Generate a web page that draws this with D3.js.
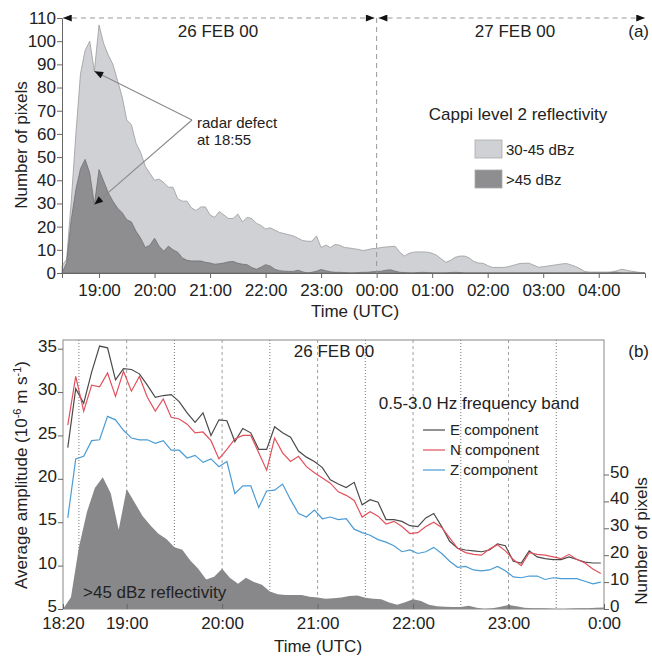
<!DOCTYPE html>
<html>
<head>
<meta charset="utf-8">
<script src="https://cdn.jsdelivr.net/npm/d3@7"></script>
<style>
body { margin: 0; background: #fff; }
svg text { font-family: "Liberation Sans", Arial, Helvetica, sans-serif; fill: #222; }
</style>
</head>
<body>
<svg id="chart" width="652" height="656"></svg>
<script>
// radar pixel counts, every 5 min from 26 Feb 18:20 UTC
const pixStart = Date.UTC(2000, 1, 26, 18, 20);
const pixStepMin = 5;
const pix3045 = [3, 6, 31, 60, 86, 96, 100, 87, 107, 99, 94, 90, 83, 76, 66, 64, 56, 52, 46, 43,
    40, 40.5, 39, 37, 37, 32, 31, 31, 28, 27, 28.5, 28.5, 25, 24, 26.5, 25, 23.5, 23.5, 25.5, 22,
    24, 23.5, 21.5, 20.5, 19, 19.5, 18.5, 17.5, 17, 16.5, 16, 15, 14, 13.7, 13.7, 16, 11, 12, 11, 12.3,
    12, 11, 10.8, 10.5, 10.2, 9.7, 10, 10.5, 10.6, 11, 11.2, 11.4, 11.5, 9, 7.3, 8.5, 9, 9.1, 9.1, 9,
    8.5, 7.6, 6, 4.6, 5.5, 6.8, 7.3, 7.3, 6.5, 5, 4.3, 4.2, 3.2, 2.4, 2.4, 2.4, 2.5, 3, 3.6, 4.1,
    4.2, 4.2, 3.3, 2.5, 2.7, 3, 3.3, 3.6, 3.9, 4.1, 3.5, 2.8, 1.8, 0.6, 0.4, 0.4, 0.4, 0.4, 0.4, 0.5,
    1, 1.6, 1.2, 0.8, 0.5, 0.2, 0];
const pix45 = [0, 4.4, 23, 36, 45, 49, 43, 29.5, 44.6, 39.6, 34.6, 31, 28, 26, 23, 22, 18, 15, 11, 12,
    15, 11.5, 9.4, 11.6, 10, 9, 6.5, 5.5, 5.2, 5.2, 5.2, 4.6, 4.3, 3.8, 4, 4.3, 4.8, 5, 4.2, 3.8,
    3.6, 2.4, 1.6, 2.5, 3.6, 3, 1.6, 1, 0.8, 0.7, 0.7, 1.2, 0.5, 0, 0.3, 0.8, 1.5, 1, 0.5, 0.3,
    0.3, 0.2, 0, 0, 0.2, 0.3, 0.3, 0.5, 0.6, 0.8, 1.2, 1.4, 0.8, 0.3, 0.2, 0, 0, 0.2, 0.3, 0.2,
    0, 0, 0, 0, 0.2, 0.3, 0.2, 0, 0, 0, 0, 0, 0, 0, 0, 0, 0, 0, 0, 0,
    0, 0, 0, 0, 0, 0, 0, 0, 0, 0, 0, 0, 0, 0, 0, 0, 0, 0, 0, 0.3,
    0.3, 0, 0, 0, 0, 0, 0];

// average amplitude 0.5-3.0 Hz, every 5 min from 18:23 UTC
const ampStart = Date.UTC(2000, 1, 26, 18, 23);
const ampStepMin = 5;
const ampE = [23.6, 30.4, 28.7, 32.3, 35.3, 35.1, 31.4, 32.7, 32.6, 32.1, 30.8, 29.4, 29.6, 29.7, 28.9, 27.6, 26.5, 27.6, 25.0, 26.8,
    26.7, 24.3, 25.8, 25.3, 23.4, 23.4, 26.0, 25.3, 24.8, 23.2, 22.5, 22.0, 21.3, 19.9, 19.4, 19.0, 19.6, 17.0, 17.6, 17.3,
    15.3, 15.3, 15.1, 14.6, 14.5, 15.5, 16.0, 14.5, 12.8, 12.0, 11.8, 11.7, 11.6, 11.8, 12.5, 12.3, 10.5, 10.3, 11.7, 11.0,
    10.8, 10.7, 10.7, 11.0, 10.7, 10.4, 10.3, 10.3];
const ampN = [26.2, 31.8, 27.8, 30.8, 30.6, 32.2, 29.5, 32.4, 30.1, 31.8, 29.4, 27.8, 29.2, 27.1, 26.9, 26.3, 25.3, 25.4, 24.4, 22.3,
    23.4, 24.6, 25.0, 25.0, 23.0, 21.0, 24.7, 23.0, 22.0, 22.6, 21.4, 20.7, 20.1, 19.5, 18.5, 18.1, 17.5, 15.6, 16.2, 15.7,
    14.8, 15.1, 14.5, 13.7, 13.8, 14.5, 15.0, 14.4, 13.2, 12.0, 11.5, 11.3, 11.2, 11.9, 12.4, 11.7, 10.7, 10.0, 11.5, 11.3,
    11.2, 11.0, 10.8, 11.3, 10.7, 10.3, 9.6, 9.1];
const ampZ = [15.5, 22.3, 22.6, 24.4, 24.5, 27.2, 26.8, 25.6, 24.7, 24.5, 24.5, 24.1, 24.4, 23.3, 23.3, 22.4, 22.7, 21.9, 22.3, 21.4,
    22.0, 18.3, 19.2, 19.2, 16.7, 18.6, 18.7, 19.4, 17.6, 16.0, 15.6, 16.4, 15.4, 15.6, 15.3, 15.4, 14.2, 13.8, 13.5, 13.0,
    12.7, 12.3, 11.6, 11.8, 11.4, 11.6, 12.1, 11.4, 10.5, 9.8, 9.9, 9.5, 9.4, 9.5, 9.9, 9.4, 8.7, 8.6, 8.8, 8.8,
    8.4, 8.6, 8.5, 8.5, 8.5, 8.2, 7.9, 8.1];

const topHourTicks = [19, 20, 21, 22, 23, 24, 25, 26, 27, 28];
const botTickMinutes = [18 * 60 + 20, 19 * 60, 20 * 60, 21 * 60, 22 * 60, 23 * 60, 24 * 60];
const botTickLabels = ["18:20", "19:00", "20:00", "21:00", "22:00", "23:00", "0:00"];
const compNames = ["E component", "N component", "Z component"];
const compColors = ["#4a4a4a", "#e2505c", "#4a9bd4"];

const day0 = Date.UTC(2000, 1, 26);
const atMin = m => new Date(day0 + m * 60000);
const series = (start, step, vals) => vals.map((v, i) => ({t: new Date(start + i * step * 60000), v: v}));

const svg = d3.select("#chart");

// arrow heads
const defs = svg.append("defs");
defs.append("marker").attr("id", "head")
    .attr("viewBox", "0 0 10 8").attr("refX", 10).attr("refY", 4)
    .attr("markerWidth", 10).attr("markerHeight", 7).attr("markerUnits", "userSpaceOnUse")
    .attr("orient", "auto-start-reverse")
    .append("path").attr("d", "M0,0L10,4L0,8Z").attr("fill", "#111");

// ---------- panel (a) ----------
const xTop = d3.scaleUtc().domain([new Date(pixStart), atMin(28 * 60 + 50)]).range([62, 645]);
const yTop = d3.scaleLinear().domain([0, 110]).range([273, 18]);

const light = series(pixStart, pixStepMin, pix3045);
const dark = series(pixStart, pixStepMin, pix45);

const area = d3.area().x(d => xTop(d.t)).y0(yTop(0)).y1(d => yTop(d.v));
svg.append("path").datum(light).attr("d", area)
    .attr("fill", "#cfd1d4").attr("stroke", "#9a9a9c").attr("stroke-width", 0.8);
svg.append("path").datum(dark).attr("d", area)
    .attr("fill", "#8e8e91").attr("stroke", "#707072").attr("stroke-width", 0.8);

// day separator + date arrows
const xMid = xTop(atMin(24 * 60));
svg.append("line").attr("x1", xMid).attr("x2", xMid).attr("y1", yTop(110)).attr("y2", yTop(0))
    .attr("stroke", "#999").attr("stroke-dasharray", "5,4");
[[xTop.range()[0] + 1, xMid - 2], [xMid + 2, xTop.range()[1]]].forEach(s => {
    svg.append("line").attr("x1", s[0]).attr("x2", s[1]).attr("y1", yTop(110)).attr("y2", yTop(110))
        .attr("stroke", "#999").attr("stroke-dasharray", "5,4")
        .attr("marker-start", "url(#head)").attr("marker-end", "url(#head)");
});
svg.append("text").attr("x", 218).attr("y", 37).attr("text-anchor", "middle")
    .style("font-size", "17px").text("26 FEB 00");
svg.append("text").attr("x", 515).attr("y", 37).attr("text-anchor", "middle")
    .style("font-size", "17px").text("27 FEB 00");
svg.append("text").attr("x", 649).attr("y", 37).attr("text-anchor", "end")
    .style("font-size", "17px").text("(a)");

// axes
const gyTop = svg.append("g").attr("transform", "translate(62,0)");
gyTop.call(d3.axisLeft(yTop).tickValues(d3.range(0, 111, 5)).tickSize(3).tickFormat(""));
gyTop.call(d3.axisLeft(yTop).tickValues(d3.range(0, 111, 10)).tickSize(5).tickPadding(1));
gyTop.selectAll("text").style("font-size", "17px");

const gxTop = svg.append("g").attr("transform", "translate(0,273)");
gxTop.call(d3.axisBottom(xTop).ticks(d3.utcMinute.every(10)).tickSize(3).tickFormat(""));
gxTop.call(d3.axisBottom(xTop).tickValues(topHourTicks.map(h => atMin(h * 60)))
    .tickSize(5).tickPadding(6).tickFormat(d3.utcFormat("%H:%M")));
gxTop.selectAll("text").style("font-size", "17px");
[gyTop, gxTop].forEach(g => {
    g.selectAll("path,line").attr("stroke", "#666");
});

svg.append("text").attr("transform", "translate(27,145) rotate(-90)").attr("text-anchor", "middle")
    .style("font-size", "17px").text("Number of pixels");
svg.append("text").attr("x", 355).attr("y", 317).attr("text-anchor", "middle")
    .style("font-size", "17px").text("Time (UTC)");

// radar defect annotation
const apex = [192, 120];
[light[7], dark[7]].forEach(d => {
    svg.append("line").attr("x1", apex[0]).attr("y1", apex[1])
        .attr("x2", xTop(d.t)).attr("y2", yTop(d.v))
        .attr("stroke", "#8a8a8a").attr("stroke-width", 1.1)
        .attr("marker-end", "url(#head)");
});
svg.append("text").attr("x", 197).attr("y", 128).style("font-size", "15px").text("radar defect");
svg.append("text").attr("x", 197).attr("y", 145).style("font-size", "15px").text("at 18:55");

// legend (a)
svg.append("text").attr("x", 518).attr("y", 120).attr("text-anchor", "middle")
    .style("font-size", "17px").text("Cappi level 2 reflectivity");
[["30-45 dBz", "#cfd1d4"], [">45 dBz", "#8e8e91"]].forEach((it, i) => {
    svg.append("rect").attr("x", 475).attr("y", 140 + i * 30).attr("width", 27).attr("height", 18)
        .attr("fill", it[1]).attr("stroke", "#aaa").attr("stroke-width", 0.8);
    svg.append("text").attr("x", 506).attr("y", 155 + i * 30).style("font-size", "15px").text(it[0]);
});

// ---------- panel (b) ----------
const L = 63, R = 604, T = 340, B = 609;
const xBot = d3.scaleUtc().domain([atMin(18 * 60 + 20), atMin(24 * 60)]).range([L, R]);
const yAmp = d3.scaleLinear().domain([5, 36]).range([B, T]);
const yPix = d3.scaleLinear().domain([0, 100]).range([B, T]);

// half-hour guide lines
d3.range(18 * 60 + 30, 24 * 60, 30).forEach(m => {
    const hour = m % 60 === 0;
    svg.append("line").attr("x1", xBot(atMin(m))).attr("x2", xBot(atMin(m)))
        .attr("y1", T).attr("y2", B)
        .attr("stroke", hour ? "#a0a0a0" : "#777")
        .attr("stroke-dasharray", hour ? "3,3" : "1,2");
});

const darkB = dark.filter(d => d.t <= atMin(24 * 60));
svg.append("path").datum(darkB)
    .attr("d", d3.area().x(d => xBot(d.t)).y0(yPix(0)).y1(d => yPix(d.v)))
    .attr("fill", "#88888b");

svg.append("text").attr("x", 83).attr("y", 598).style("font-size", "17px").attr("fill", "#222")
    .text(">45 dBz reflectivity");

const line = d3.line().x(d => xBot(d.t)).y(d => yAmp(d.v));
[ampE, ampN, ampZ].forEach((vals, i) => {
    svg.append("path").datum(series(ampStart, ampStepMin, vals)).attr("d", line)
        .attr("fill", "none").attr("stroke", compColors[i]).attr("stroke-width", 1.2);
});

svg.append("rect").attr("x", L).attr("y", T).attr("width", R - L).attr("height", B - T)
    .attr("fill", "none").attr("stroke", "#888");

const gyL = svg.append("g").attr("transform", `translate(${L},0)`);
gyL.call(d3.axisLeft(yAmp).tickValues(d3.range(5, 36, 1)).tickSize(3).tickFormat(""));
gyL.call(d3.axisLeft(yAmp).tickValues(d3.range(5, 36, 5)).tickSize(5).tickPadding(1));
gyL.selectAll("text").attr("dy", "0.15em");
const gyR = svg.append("g").attr("transform", `translate(${R},0)`);
gyR.call(d3.axisRight(yPix).tickValues(d3.range(0, 51, 2)).tickSize(3).tickFormat(""));
gyR.call(d3.axisRight(yPix).tickValues(d3.range(0, 51, 10)).tickSize(5).tickPadding(1));
gyR.selectAll("text").attr("dy", "0.15em");
const gxB = svg.append("g").attr("transform", `translate(0,${B})`);
gxB.call(d3.axisBottom(xBot).ticks(d3.utcMinute.every(5)).tickSize(-3).tickFormat(""));
gxB.call(d3.axisBottom(xBot).tickValues(botTickMinutes.map(atMin)).tickSize(-5).tickPadding(8)
    .tickFormat((d, i) => botTickLabels[i]));
[gyL, gyR, gxB].forEach(g => {
    g.selectAll(".domain").remove();
    g.selectAll("line").attr("stroke", "#666");
    g.selectAll("text").style("font-size", "17px");
});

const ampLabel = svg.append("text").attr("transform", "translate(27,475) rotate(-90)")
    .attr("text-anchor", "middle").style("font-size", "17px");
ampLabel.append("tspan").text("Average amplitude (10");
ampLabel.append("tspan").attr("dy", -6).style("font-size", "11px").text("-6");
ampLabel.append("tspan").attr("dy", 6).text(" m s");
ampLabel.append("tspan").attr("dy", -6).style("font-size", "11px").text("-1");
ampLabel.append("tspan").attr("dy", 6).text(")");

svg.append("text").attr("transform", "translate(647,541) rotate(-90)").attr("text-anchor", "middle")
    .style("font-size", "17px").text("Number of pixels");
svg.append("text").attr("x", 318).attr("y", 652).attr("text-anchor", "middle")
    .style("font-size", "17px").text("Time (UTC)");
svg.append("text").attr("x", 334).attr("y", 357).attr("text-anchor", "middle")
    .style("font-size", "17px").text("26 FEB 00");
svg.append("text").attr("x", 649).attr("y", 357).attr("text-anchor", "end")
    .style("font-size", "17px").text("(b)");

// legend (b)
svg.append("text").attr("x", 479).attr("y", 409).attr("text-anchor", "middle")
    .style("font-size", "17px").text("0.5-3.0 Hz frequency band");
compNames.forEach((n, i) => {
    const yy = 430 + i * 20;
    svg.append("line").attr("x1", 423).attr("x2", 445).attr("y1", yy).attr("y2", yy)
        .attr("stroke", compColors[i]).attr("stroke-width", 1.2);
    svg.append("text").attr("x", 450).attr("y", yy + 5).style("font-size", "15px").text(n);
});
</script>
</body>
</html>
